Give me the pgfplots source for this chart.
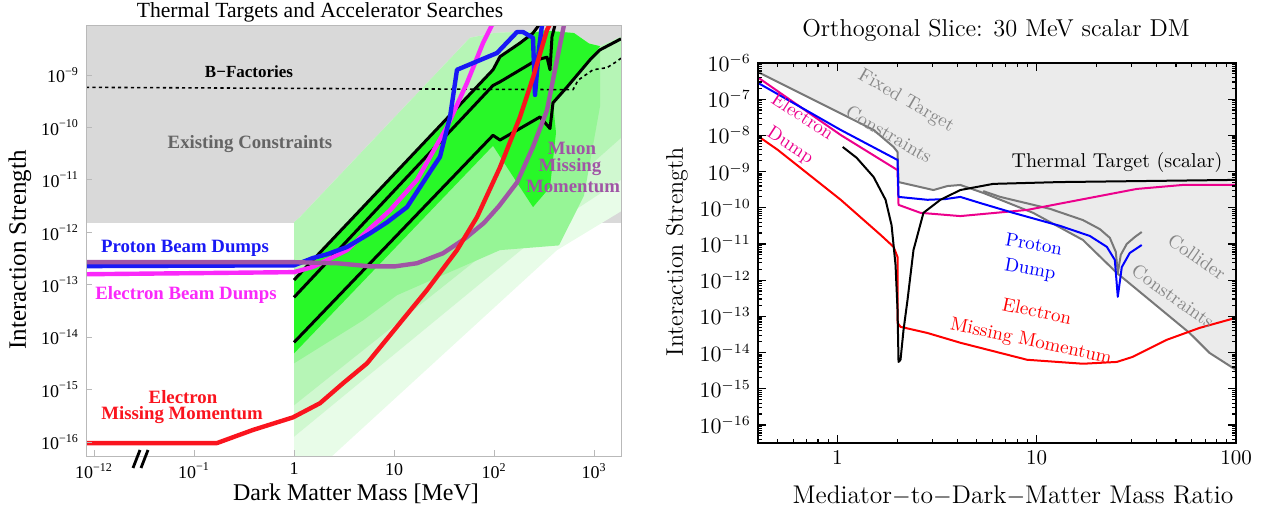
\documentclass[border=0pt]{standalone}
\usepackage{fontspec}
\usepackage{pgfplots}
\pgfplotsset{compat=1.18}
\newfontfamily\tnr{Liberation Serif}
\definecolor{lgrey}{RGB}{217,217,217}
\definecolor{ctext}{RGB}{100,100,100}
\definecolor{lblue}{RGB}{25,25,245}
\definecolor{lmag}{RGB}{250,40,250}
\definecolor{lred}{RGB}{250,20,30}
\definecolor{lpur}{RGB}{160,85,165}
\definecolor{gA}{RGB}{232,252,232}
\definecolor{gB}{RGB}{208,248,208}
\definecolor{gC}{RGB}{182,245,182}
\definecolor{gD}{RGB}{150,245,150}
\definecolor{gE}{RGB}{40,248,40}
\definecolor{shade}{RGB}{235,235,235}
\definecolor{cline}{RGB}{120,120,120}
\definecolor{clab}{RGB}{135,135,135}
\begin{document}
\begin{tikzpicture}
% ---------------- LEFT PANEL ----------------
\begin{axis}[
  at={(43pt,-228pt)}, anchor=south west,
  scale only axis, width=267.5pt, height=215.5pt,
  xmin=-2.08, xmax=3.27, ymin=-16.267, ymax=-8.046,
  axis on top,
  axis line style={draw=gray!55, line width=0.5pt},
  xtick={-2,-1,0,1,2,3},
  xticklabels={10\textsuperscript{−12},10\textsuperscript{−1},1,10,10\textsuperscript{2},10\textsuperscript{3}},
  ytick={-16,-15,-14,-13,-12,-11,-10,-9},
  yticklabels={10\textsuperscript{−16},10\textsuperscript{−15},10\textsuperscript{−14},10\textsuperscript{−13},10\textsuperscript{−12},10\textsuperscript{−11},10\textsuperscript{−10},10\textsuperscript{−9}},
  tick label style={font=\tnr\fontsize{9}{10}\selectfont},
  tick style={draw=gray!55, line width=0.4pt},
  major tick length=3pt,
  tick pos=left, tick align=inside,
]
% existing constraints
\addplot[fill=lgrey, draw=none] coordinates {(-2.08,-11.82) (3.27,-11.82) (3.27,-8.046) (-2.08,-8.046)} -- cycle;
% green layers
\addplot[fill=gA, draw=none] coordinates {(0,-11.81) (0.06,-11.71) (1.76,-8.29) (2.0,-8.2) (2.5,-8.15) (2.8,-8.2) (2.95,-8.4) (3.06,-8.45) (3.27,-8.27)
  (3.27,-11.6) (2.63,-12.34) (0.38,-16.27) (0,-16.27)} -- cycle;
\addplot[fill=gB, draw=none] coordinates {(0,-11.81) (0.06,-11.71) (1.76,-8.29) (2.0,-8.2) (2.5,-8.15) (2.8,-8.2) (2.95,-8.4) (3.06,-8.45) (3.27,-8.27)
  (3.27,-11.0) (2.55,-11.9) (0,-15.9)} -- cycle;
\addplot[fill=gC, draw=none] coordinates {(0,-11.81) (0.06,-11.71) (1.76,-8.29) (2.0,-8.2) (2.5,-8.15) (2.8,-8.2) (2.95,-8.4) (3.06,-8.45) (3.27,-8.27)
  (3.27,-10.2) (2.5,-11.5) (0,-15.3)} -- cycle;
\addplot[fill=gD, draw=none] coordinates {(0,-12.91) (1.99,-8.90) (2.06,-8.65) (2.26,-8.39) (2.39,-8.2) (2.5,-8.15) (2.8,-8.2) (2.95,-8.4) (3.06,-8.45)
  (3.06,-9.6) (2.9,-11.3) (2.65,-12.25) (2.06,-12.34) (1.03,-13.2) (0.69,-13.68) (0,-14.5)} -- cycle;
\addplot[fill=gE, draw=none] coordinates {(0,-12.91) (1.99,-8.90) (2.06,-8.65) (2.26,-8.39) (2.39,-8.2) (2.5,-8.15) (2.8,-8.2) (2.95,-8.4) (3.06,-8.45)
  (2.96,-8.71) (2.73,-9.23) (2.59,-9.53) (2.62,-10.1) (2.56,-11.14) (2.39,-11.52) (1.99,-10.35) (0,-14.31)} -- cycle;
% B-factories dotted
\addplot[black, line width=0.8pt, dash pattern=on 1.6pt off 1.6pt] coordinates {(-2.08,-9.235) (2.79,-9.28) (2.84,-9.1) (2.99,-8.9) (3.13,-8.86) (3.22,-8.75) (3.27,-8.68)};
% thermal targets (black)
\addplot[black, line width=1.5pt, line join=round] coordinates {(0,-12.91) (1.99,-8.90) (2.06,-8.65) (2.26,-8.39) (2.39,-8.20) (2.45,-8.046)};
\addplot[black, line width=1.5pt, line join=round] coordinates {(0,-13.24) (1.99,-9.20) (2.06,-9.13) (2.43,-8.71) (2.53,-8.66) (2.56,-8.90) (2.58,-8.27) (2.61,-8.046)};
\addplot[black, line width=1.5pt, line join=round] coordinates {(0,-14.10) (1.99,-10.15) (2.06,-10.24) (2.46,-9.80) (2.56,-10.02) (2.59,-9.53) (2.73,-9.23) (2.96,-8.71) (3.06,-8.52) (3.27,-8.31)};
% electron beam dumps
\addplot[lmag, line width=2.2pt, line join=round] coordinates {(-2.08,-12.80) (0,-12.76) (0.19,-12.66) (0.33,-12.53) (0.53,-12.34) (0.73,-11.98) (0.96,-11.58) (1.23,-11.00) (1.53,-9.99) (1.73,-9.15) (1.89,-8.39) (1.98,-8.046)};
% proton beam dumps
\addplot[lblue, line width=2.2pt, line join=round] coordinates {(-2.08,-12.645) (0,-12.63) (0.19,-12.49) (0.33,-12.42) (0.53,-12.28) (0.76,-12.02) (0.93,-11.81) (1.13,-11.52) (1.39,-10.76) (1.46,-10.56) (1.56,-9.80) (1.63,-8.90) (2.03,-8.58) (2.23,-8.18) (2.29,-8.18) (2.39,-8.29) (2.41,-9.38) (2.45,-8.5) (2.48,-8.046)};
% muon missing momentum
\addplot[lpur, line width=2.2pt, line join=round] coordinates {(-2.08,-12.57) (0,-12.57) (0.43,-12.59) (0.76,-12.65) (1.01,-12.65) (1.23,-12.59) (1.49,-12.40) (1.71,-12.12) (1.90,-11.82) (2.05,-11.5) (2.23,-11.05) (2.39,-10.37) (2.53,-9.67) (2.63,-8.71) (2.70,-8.046)};
% electron missing momentum
\addplot[lred, line width=2.2pt, line join=round] coordinates {(-2.08,-16.02) (-0.77,-16.02) (-0.41,-15.77) (-0.01,-15.53) (0.26,-15.26) (0.49,-14.88) (0.73,-14.50) (1.06,-13.73) (1.33,-13.10) (1.63,-12.34) (1.83,-11.71) (2.06,-10.76) (2.26,-9.80) (2.39,-9.05) (2.53,-8.14) (2.555,-8.046)};
\end{axis}
% ---------------- RIGHT PANEL ----------------
\begin{axis}[
  at={(379pt,-221.5pt)}, anchor=south west,
  scale only axis, width=239pt, height=190pt,
  xmin=-0.398, xmax=2, ymin=-16.5, ymax=-6,
  axis on top,
  xtick={0,1,2}, xticklabels={1,10,100},
  minor xtick={-0.301,-0.2218,-0.1549,-0.0969,-0.0458,0.301,0.4771,0.6021,0.699,0.7782,0.8451,0.9031,0.9542,1.301,1.4771,1.6021,1.699,1.7782,1.8451,1.9031,1.9542},
  ytick={-16,-15,-14,-13,-12,-11,-10,-9,-8,-7,-6},
  yticklabels={$10^{-16}$,$10^{-15}$,$10^{-14}$,$10^{-13}$,$10^{-12}$,$10^{-11}$,$10^{-10}$,$10^{-9}$,$10^{-8}$,$10^{-7}$,$10^{-6}$},
  minor ytick={-16.398,-16.301,-16.222,-16.155,-16.097,-16.046,
   -15.699,-15.523,-15.398,-15.301,-15.222,-15.155,-15.097,-15.046,
   -14.699,-14.523,-14.398,-14.301,-14.222,-14.155,-14.097,-14.046,
   -13.699,-13.523,-13.398,-13.301,-13.222,-13.155,-13.097,-13.046,
   -12.699,-12.523,-12.398,-12.301,-12.222,-12.155,-12.097,-12.046,
   -11.699,-11.523,-11.398,-11.301,-11.222,-11.155,-11.097,-11.046,
   -10.699,-10.523,-10.398,-10.301,-10.222,-10.155,-10.097,-10.046,
   -9.699,-9.523,-9.398,-9.301,-9.222,-9.155,-9.097,-9.046,
   -8.699,-8.523,-8.398,-8.301,-8.222,-8.155,-8.097,-8.046,
   -7.699,-7.523,-7.398,-7.301,-7.222,-7.155,-7.097,-7.046,
   -6.699,-6.523,-6.398,-6.301,-6.222,-6.155,-6.097,-6.046},
  tick align=inside,
  major tick length=4pt, minor tick length=2.2pt,
  tick style={black, line width=0.6pt},
  axis line style={line width=0.8pt},
  tick label style={font=\fontsize{10.5}{12}\selectfont},
]
\addplot[fill=shade, draw=none] coordinates {(-0.398,-6.25) (0.182,-7.85) (0.282,-8.32) (0.302,-8.46) (0.307,-9.29) (0.482,-9.51) (0.552,-9.40) (0.617,-9.37) (0.732,-9.59) (0.982,-10.14) (1.232,-10.89) (1.402,-11.80) (1.567,-12.55) (1.767,-13.46) (1.867,-14.01) (2,-14.48) (2,-6) (-0.398,-6)} -- cycle;
\addplot[cline, line width=1pt, line join=round] coordinates {(-0.398,-6.25) (0.182,-7.85) (0.282,-8.32) (0.302,-8.46) (0.307,-9.29) (0.482,-9.51) (0.552,-9.40) (0.617,-9.37) (0.732,-9.59) (0.982,-10.14) (1.232,-10.89) (1.402,-11.80) (1.567,-12.55) (1.767,-13.46) (1.867,-14.01) (2,-14.48)};
\addplot[cline, line width=1pt, line join=round] coordinates {(0.732,-9.54) (0.817,-9.70) (1.067,-10.03) (1.232,-10.34) (1.317,-10.59) (1.367,-10.83) (1.397,-11.22) (1.407,-11.80) (1.422,-11.30) (1.452,-11.00) (1.492,-10.81) (1.527,-10.67)};
\addplot[magenta, line width=1pt, line join=round] coordinates {(-0.398,-6.40) (0.017,-7.99) (0.302,-8.96) (0.307,-9.92) (0.417,-10.14) (0.617,-10.23) (0.952,-10.06) (1.217,-9.78) (1.502,-9.48) (1.732,-9.37) (2,-9.37)};
\addplot[blue, line width=1pt, line join=round] coordinates {(-0.398,-6.55) (0.017,-7.85) (0.302,-8.68) (0.307,-9.70) (0.452,-9.78) (0.542,-9.76) (0.617,-9.70) (0.717,-9.87) (0.882,-10.14) (1.117,-10.50) (1.267,-10.78) (1.352,-11.08) (1.392,-11.44) (1.407,-12.46) (1.427,-11.64) (1.467,-11.25) (1.527,-11.03)};
\addplot[red, line width=1pt, line join=round] coordinates {(-0.398,-8.02) (-0.299,-8.40) (0.017,-9.78) (0.217,-10.75) (0.282,-11.08) (0.302,-11.36) (0.302,-13.18) (0.317,-13.29) (0.452,-13.46) (0.617,-13.73) (0.952,-14.20) (1.232,-14.31) (1.402,-14.26) (1.482,-14.12) (1.652,-13.65) (1.817,-13.32) (2,-13.04)};
\addplot[black, line width=1pt, line join=round] coordinates {(0.027,-8.32) (0.097,-8.62) (0.182,-9.15) (0.242,-9.78) (0.272,-10.48) (0.292,-11.58) (0.302,-12.82) (0.307,-14.26) (0.317,-14.20) (0.332,-13.38) (0.352,-12.55) (0.382,-11.17) (0.432,-10.14) (0.517,-9.78) (0.617,-9.51) (0.782,-9.34) (1.117,-9.29) (2,-9.23)};
\end{axis}
% ---------------- TEXT ----------------
\begin{scope}[x=0.5pt,y=-0.5pt]
\node[font=\tnr\fontsize{10.8}{12}\selectfont] at (320,12) {Thermal Targets and Accelerator Searches};
\node[font=\tnr\fontsize{12}{14}\selectfont] at (356,494) {Dark Matter Mass [MeV]};
\node[font=\tnr\fontsize{12.5}{14}\selectfont, rotate=90] at (20,250) {Interaction Strength};
\node[font=\tnr\bfseries\fontsize{8.5}{10}\selectfont] at (249,72) {B−Factories};
\node[font=\tnr\bfseries\fontsize{9.4}{11}\selectfont, text=ctext] at (250,144) {Existing Constraints};
\node[font=\tnr\bfseries\fontsize{9.4}{11}\selectfont, text=lblue] at (185,248) {Proton Beam Dumps};
\node[font=\tnr\bfseries\fontsize{9.4}{11}\selectfont, text=lmag] at (186,295) {Electron Beam Dumps};
\node[font=\tnr\bfseries\fontsize{9.4}{11}\selectfont, text=lred] at (183,397) {Electron};
\node[font=\tnr\bfseries\fontsize{9.4}{11}\selectfont, text=lred] at (182,415) {Missing Momentum};
\node[font=\tnr\bfseries\fontsize{9.4}{11}\selectfont, text=lpur] at (572,148) {Muon};
\node[font=\tnr\bfseries\fontsize{9.4}{11}\selectfont, text=lpur] at (570,167) {Missing};
\node[font=\tnr\bfseries\fontsize{9.4}{11}\selectfont, text=lpur] at (573,186) {Momentum};
\draw[line width=1.4pt] (133,468)--(140,450) (141,468)--(148,450);
\node[font=\fontsize{12.2}{14}\selectfont] at (996,30) {Orthogonal Slice: 30 MeV scalar DM};
\node[font=\fontsize{12.8}{14}\selectfont] at (1013,496) {Mediator$-$to$-$Dark$-$Matter Mass Ratio};
\node[font=\fontsize{12}{14}\selectfont, rotate=90] at (677,252) {Interaction Strength};
\node[font=\fontsize{9.5}{11}\selectfont, text=clab, rotate=-30] at (906,101) {Fixed Target};
\node[font=\fontsize{9.5}{11}\selectfont, text=clab, rotate=-30] at (889,134) {Constraints};
\node[font=\fontsize{9.5}{11}\selectfont, text=magenta, rotate=-33] at (803,116) {Electron};
\node[font=\fontsize{9.5}{11}\selectfont, text=magenta, rotate=-33] at (790,146) {Dump};
\node[font=\fontsize{10}{12}\selectfont] at (1117,163) {Thermal Target (scalar)};
\node[font=\fontsize{9.5}{11}\selectfont, text=blue, rotate=-10] at (1034,244) {Proton};
\node[font=\fontsize{9.5}{11}\selectfont, text=blue, rotate=-10] at (1030,270) {Dump};
\node[font=\fontsize{9.5}{11}\selectfont, text=red, rotate=-12] at (1037,311) {Electron};
\node[font=\fontsize{9.5}{11}\selectfont, text=red, rotate=-12] at (1031,342) {Missing Momentum};
\node[font=\fontsize{9.5}{11}\selectfont, text=clab, rotate=-35] at (1197,257) {Collider};
\node[font=\fontsize{9.5}{11}\selectfont, text=clab, rotate=-35] at (1173,296) {Constraints};
\end{scope}
\pgfresetboundingbox
\path[use as bounding box] (0pt,0pt) rectangle (632.5pt,-259pt);
\end{tikzpicture}
\end{document}
